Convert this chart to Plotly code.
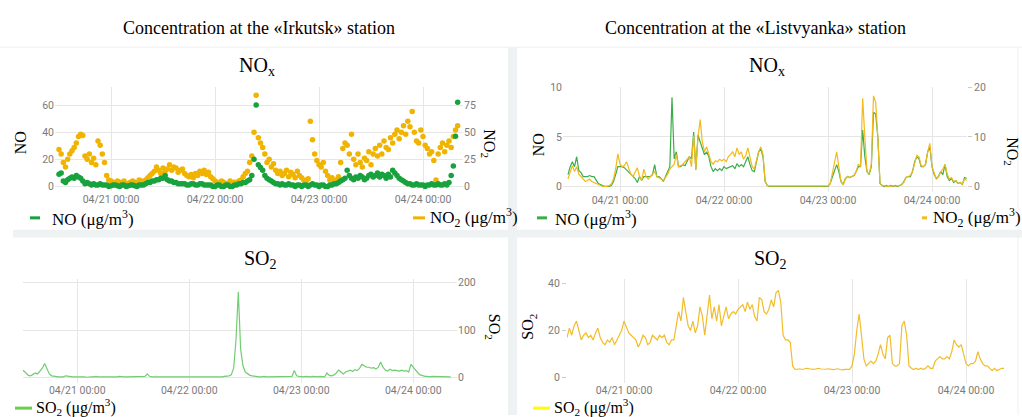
import pandas as pd
import plotly.graph_objects as go

# ---------------- data (30-min steps starting 04/20 12:00) ----------------
START = "2021-04-20 12:00"

irk_no2 = [34,30, 22,18, 25,30, 33,36, 40,46, 48,47, 28,25, 30,22, 26,20, 42,38, 30,22, 10,6,
           5,4, 3,5, 4,3, 5,2, 3,4, 5,4, 3,6, 5,4, 6,8, 10,12, 14,18, 15,12,
           17,14, 16,20, 15,18, 17,13, 15,16, 12,10, 9,11, 8,12, 10,14, 12,15, 11,13, 9,7,
           5,4, 3,5, 4,2, 3,5, 2,4, 3,5, 6,9, 12,14, 22,28, 50,84, 45,40, 36,30,
           22,25, 18,21, 15,12, 14,10, 12,15, 9,13, 11,8, 14,10, 8,6, 5,7, 60,43, 30,24,
           20,18, 22,14, 10,6, 8,5, 6,9, 22,35, 40,38, 30,48, 25,20, 30,22, 18,26, 24,32,
           20,30, 35,28, 38,30, 42,36, 34,45, 40,48, 52,44, 50,56, 48,60, 55,69, 50,42, 40,52,
           46,38, 35,30, 32,24, 6,30, 36,40, 32,38, 42,36, 46,52, 56]

irk_no = [9,10, 4,3, 5,6, 7,6, 8,7, 6,4, 2,3, 2,1, 2,1, 1,2, 1,1, 1,0,
          0.5,1, 1,0.5, 0,1, 1,0, 0.5,1, 1,0.5, 0,1, 1,1, 2,3, 3,4, 4,5, 5,6,
          6,8, 5,4, 4,3, 3,2, 2,2, 2,1, 1,2, 2,1, 1,2, 2,1, 1,1, 1,0,
          0,1, 1,0, 0,1, 1,0, 0,1, 1,2, 2,3, 3,4, 5,8, 20,60, 16,14, 12,8,
          6,5, 4,3, 2,2, 1,2, 1,1, 2,1, 1,0, 1,1, 0,1, 1,0, 1,2, 1,1,
          0,1, 1,0, 0,1, 1,2, 2,3, 4,5, 6,12, 8,6, 5,7, 6,8, 7,5, 6,8,
          9,7, 8,10, 7,9, 8,6, 9,7, 12,10, 8,6, 5,4, 3,2, 2,1, 1,2, 1,1,
          1,0, 1,1, 2,1, 1,2, 1,1, 2,1, 3,8, 15,37, 62]

lis_no = [1.2,2.0,2.5,2.0,3.0,1.6,1.4,1.0,1.0,1.0,1.1,1.0,1.0,0.6,0.3,0.2,0.1,0.0,0.0,0.0,0.1,0.5,1.2,2.0,
          2.0,2.0,1.9,1.7,1.5,1.2,1.0,0.8,0.4,1.0,0.6,1.0,1.0,1.0,1.0,1.2,2.2,1.0,1.0,0.8,0.5,1.0,1.6,2.0,
          9.0,2.8,3.5,2.0,2.0,2.2,2.1,2.6,3.0,2.8,5.5,1.7,5.2,4.5,3.8,3.2,3.5,3.0,2.0,1.5,1.8,1.6,1.8,1.6,
          2.0,1.8,1.9,2.0,2.1,1.8,2.3,2.0,2.2,2.0,2.6,3.0,2.2,1.6,1.5,2.5,3.5,3.8,3.0,0.5,0.1,0.0,0.0,0.0,
          0,0,0,0,0,0,0,0,0,0,0,0,0,0,0,0,0,0,0,0,0,0,0,0,
          0.0,0.3,1.0,1.6,2.2,1.5,0.5,0.2,0.8,1.0,0.9,1.0,1.1,1.5,2.0,2.0,5.7,3.0,1.5,1.2,2.0,7.5,7.3,5.0,
          0.3,0.1,0.0,0.1,0.0,0.1,0.0,0.1,0.0,0.1,0.2,0.5,0.9,1.0,1.0,1.5,2.5,3.0,2.8,2.0,2.0,2.2,3.5,4.0,
          2.0,1.2,0.8,1.0,1.5,1.2,2.2,1.0,0.6,0.8,0.4,0.6,0.3,0.4,0.2,0.9,0.8]

lis_no2 = [1.5,2.8,4.2,3.0,4.0,2.5,2.0,1.5,1.0,1.2,1.5,1.0,0.8,0.5,0.3,0.1,0.0,0.0,0.0,0.2,0.5,1.5,3.5,6.6,
           4.5,4.0,4.2,5.0,3.5,2.5,2.0,3.0,3.8,2.0,1.2,3.5,2.0,1.5,2.0,2.5,3.0,2.0,1.8,1.5,1.2,1.8,2.5,3.5,
           4.0,4.5,6.5,4.0,4.2,4.5,5.0,5.5,6.0,4.0,10.3,3.5,10.0,13.5,9.0,7.0,8.0,6.5,5.0,4.5,5.2,5.0,5.5,5.2,
           5.5,5.0,6.0,6.5,7.0,6.0,7.8,6.5,7.0,5.5,6.2,7.8,5.5,4.0,3.5,5.5,7.0,8.0,6.5,1.0,0.2,0.1,0.1,0.1,
           0.1,0.1,0.1,0.1,0.1,0.1,0.1,0.1,0.1,0.1,0.1,0.1,0.1,0.1,0.1,0.1,0.1,0.1,0.1,0.1,0.1,0.1,0.1,0.1,
           0.1,0.5,2.5,5.0,7.0,4.0,1.0,0.3,1.5,2.0,1.8,2.0,2.2,3.0,4.5,4.0,17.8,10.0,3.0,2.5,4.5,18.3,17.0,10.0,
           0.6,0.2,0.1,0.1,0.0,0.1,0.1,0.0,0.1,0.2,0.4,0.8,1.8,2.0,2.2,3.0,5.0,6.3,6.0,4.2,4.0,4.5,7.0,8.7,
           4.0,2.5,1.5,2.0,3.0,3.5,4.5,2.5,1.5,1.8,1.0,1.2,0.6,0.8,0.5,1.5,1.2]

irk_so2 = [10,15,10,5,4,8,10,8,14,20,30,18,8,4,3,2,2,2,2,4,3,2,2,2,
           2,3,2,2,1,2,2,2,3,2,2,2,2,2,1,2,2,2,3,2,2,2,2,2,
           2,2,2,2,2,3,8,3,2,2,2,2,2,2,2,2,1,2,2,2,2,2,2,2,
           2,2,2,2,2,2,2,2,2,2,2,2,2,2,2,3,3,4,6,20,78,180,60,25,
           12,8,5,4,3,3,2,2,3,2,2,3,2,2,2,3,2,2,2,2,3,15,4,3,
           2,2,3,2,2,3,2,2,3,2,2,10,5,4,6,10,16,12,8,12,14,16,13,17,
           15,20,28,24,22,22,20,21,18,22,33,22,16,14,18,15,16,15,14,16,14,15,12,28,
           22,14,10,6,4,3,3,2,3,3,2,3,3,2,3,3,2]

lis_so2 = [17,21,18,22,24,20,16,18,19,17,18,16,19,21,17,15,14,16,15,17,14,16,18,20,
           24,21,19,18,17,16,13,15,18,17,14,15,18,17,16,18,17,18,15,14,16,16,22,28,
           24,34,28,22,20,24,19,22,30,26,18,26,35,25,30,24,31,22,26,30,25,27,28,27,
           29,30,31,28,32,29,31,26,24,34,33,28,27,29,33,30,36,37,32,18,16,16,15,5,
           3.5,3.6,3.8,3.5,3.7,4,3.8,3.6,3.5,3.8,4,3.7,3.5,3.6,3.8,3.5,3.4,3.6,3.8,3.5,3.3,3.5,3.6,3.5,
           5,10,20,27,18,8,5,6,7,6,7,10,14,10,8,17,18,6,5,5,6,22,24,18,
           5,4,3.5,4,3.5,4,3.5,4,5,4,4,7,8,9,8,8,9,8,11,16,14,13,14,10,
           6,5,6,6,7,11,8,6,5,5,4,3,4,3,3.5,4,4]

main_titles = ["Concentration at the «Irkutsk» station", "Concentration at the «Listvyanka» station"]

# ---------------- helpers ----------------
W, H = 1022, 417
def px(x): return x / W
def py(y): return 1 - y / H
def times(n): return pd.date_range(START, periods=n, freq="30min")
REF = pd.Timestamp("2021-04-21 00:00")
def xr(left, right, ref_px, ppd):
    return [(REF + pd.Timedelta(days=(left - ref_px) / ppd)).isoformat(),
            (REF + pd.Timedelta(days=(right - ref_px) / ppd)).isoformat()]
def yr(v_per_px, zero_px, top_px, bot_px):
    return [-(bot_px - zero_px) * v_per_px, (zero_px - top_px) * v_per_px]

C_IRK_NO = "#17a23e"
C_IRK_NO2 = "#f0b400"
C_LIS_NO = "#3aad4a"
C_LIS_NO2 = "#f4b91a"
C_IRK_SO2 = "#72cc72"
C_LIS_SO2 = "#f2bc2a"

fig = go.Figure()
# panel 1: Irkutsk NOx (NO2 on main axis y, NO on overlaying y2 so green is on top)
fig.add_trace(go.Scatter(x=times(len(irk_no2)), y=irk_no2, mode="markers", xaxis="x", yaxis="y",
                         marker=dict(size=5.5, color=C_IRK_NO2), showlegend=False))
fig.add_trace(go.Scatter(x=times(len(irk_no)), y=irk_no, mode="markers", xaxis="x", yaxis="y2",
                         marker=dict(size=5.5, color=C_IRK_NO), showlegend=False))
# panel 2: Listvyanka NOx
fig.add_trace(go.Scatter(x=times(len(lis_no)), y=lis_no, mode="lines", xaxis="x2", yaxis="y3",
                         line=dict(color=C_LIS_NO, width=1.2), showlegend=False))
fig.add_trace(go.Scatter(x=times(len(lis_no2)), y=lis_no2, mode="lines", xaxis="x2", yaxis="y4",
                         line=dict(color=C_LIS_NO2, width=1.2), showlegend=False))
# panel 3: Irkutsk SO2
fig.add_trace(go.Scatter(x=times(len(irk_so2)), y=irk_so2, mode="lines", xaxis="x3", yaxis="y5",
                         line=dict(color=C_IRK_SO2, width=1.2), showlegend=False))
# panel 4: Listvyanka SO2
fig.add_trace(go.Scatter(x=times(len(lis_so2)), y=lis_so2, mode="lines", xaxis="x4", yaxis="y6",
                         line=dict(color=C_LIS_SO2, width=1.2), showlegend=False))

TICKF = dict(family="Roboto", size=10.5, color="#7a7a7a")
GRID = "#e6e6e6"
xcommon = dict(type="date", tickformat="%m/%d %H:%M", dtick=86400000, tick0=REF.isoformat(),
               showgrid=True, gridcolor=GRID, zeroline=False, showline=False, tickfont=TICKF, ticks="")
ycommon = dict(zeroline=False, showline=False, tickfont=TICKF, gridcolor=GRID)

no_scale1 = 60 / 83.0
no_scale2 = 10 / 101.0
fig.update_layout(
    width=W, height=H, margin=dict(l=0, r=0, t=0, b=0),
    paper_bgcolor="white", plot_bgcolor="rgba(0,0,0,0)", showlegend=False,
    xaxis=dict(xcommon, domain=[px(55), px(463)], range=xr(55, 463, 111, 104), anchor="y"),
    yaxis=dict(ycommon, domain=[py(189), py(83)], side="right", anchor="x",
               range=[v * 1.25 for v in yr(no_scale1, 184, 83, 189)], dtick=25, showgrid=False),
    yaxis2=dict(ycommon, overlaying="y", side="left", anchor="x",
                range=yr(no_scale1, 184, 83, 189), dtick=20, showgrid=True),
    xaxis2=dict(xcommon, domain=[px(563), px(967)], range=xr(563, 967, 620, 104), anchor="y3"),
    yaxis3=dict(ycommon, domain=[py(190), py(83)], side="left", anchor="x2",
                range=yr(no_scale2, 184, 83, 190), dtick=5, showgrid=True),
    yaxis4=dict(ycommon, overlaying="y3", side="right", anchor="x2",
                range=[v * 2 for v in yr(no_scale2, 184, 83, 190)], dtick=10, showgrid=False,
                ticks="outside", ticklen=4, tickcolor="#cccccc"),
    xaxis3=dict(xcommon, domain=[px(23), px(457)], range=xr(23, 457, 77.3, 112), anchor="y5"),
    yaxis5=dict(ycommon, domain=[py(384), py(278)], side="right", anchor="x3",
                range=yr(200 / 97.3, 379, 278, 384), dtick=100, showgrid=True),
    xaxis4=dict(xcommon, domain=[px(567), px(1008)], range=xr(567, 1008, 624, 114), anchor="y6"),
    yaxis6=dict(ycommon, domain=[py(384), py(278)], side="left", anchor="x4",
                range=yr(40 / 96.3, 379, 278, 384), dtick=20, showgrid=False,
                ticks="outside", ticklen=4, tickcolor="#cccccc"),
)

# separators (dashboard background)
SEP = "#eef2f3"
shapes = [
    dict(type="line", xref="paper", yref="paper", x0=0, x1=1, y0=py(42), y1=py(42),
         line=dict(color="#f0f0f0", width=1), layer="below"),
    dict(type="rect", xref="paper", yref="paper", x0=px(13), x1=1, y0=py(236), y1=py(228),
         fillcolor=SEP, line=dict(width=0), layer="below"),
    dict(type="rect", xref="paper", yref="paper", x0=px(508), x1=px(517), y0=0, y1=py(42),
         fillcolor=SEP, line=dict(width=0), layer="below"),
    dict(type="line", xref="paper", yref="paper", x0=px(1018), x1=px(1018), y0=0, y1=py(42),
         line=dict(color="#eef0f0", width=1), layer="below"),
]
# legend swatches
def swatch(x0, x1, y, color, w=3):
    return dict(type="line", xref="paper", yref="paper", x0=px(x0), x1=px(x1), y0=py(y), y1=py(y),
                line=dict(color=color, width=w))
shapes += [swatch(30, 40, 216, C_IRK_NO), swatch(413, 425, 216, C_IRK_NO2),
           swatch(537, 547, 216, C_LIS_NO), swatch(922, 927, 216, C_LIS_NO2),
           swatch(15, 32, 410, "#6ad04a"), swatch(533, 550, 410, "#ffff00")]
fig.update_layout(shapes=shapes)

SERIF = "Liberation Serif"
def ann(text, x, y, size, xanchor="center", angle=0):
    return dict(text=text, x=px(x), y=py(y), xref="paper", yref="paper", showarrow=False,
                xanchor=xanchor, yanchor="middle", textangle=angle,
                font=dict(family=SERIF, size=size, color="black"))
UNIT = " (μg/m<sup>3</sup>)"
anns = [
    ann(main_titles[0], 259, 22, 18), ann(main_titles[1], 755, 22, 18),
    ann("NO<sub>x</sub>", 257, 62, 20), ann("NO<sub>x</sub>", 767, 62, 20),
    ann("SO<sub>2</sub>", 260, 258, 20), ann("SO<sub>2</sub>", 770, 258, 20),
    ann("NO", 20, 140, 16, angle=-90), ann("NO<sub>2</sub>", 489, 140, 16, angle=90),
    ann("NO", 538, 142, 16, angle=-90), ann("NO<sub>2</sub>", 1012, 148, 16, angle=90),
    ann("SO<sub>2</sub>", 493, 327, 16, angle=90), ann("SO<sub>2</sub>", 529, 327, 16, angle=-90),
    ann("NO" + UNIT, 50, 216, 17, xanchor="left"),
    ann("NO<sub>2</sub>" + UNIT, 428, 216, 17, xanchor="left"),
    ann("NO" + UNIT, 553, 216, 17, xanchor="left"),
    ann("NO<sub>2</sub>" + UNIT, 931, 216, 17, xanchor="left"),
    ann("SO<sub>2</sub>" + UNIT, 34, 408.5, 16, xanchor="left"),
    ann("SO<sub>2</sub>" + UNIT, 552, 408.5, 16, xanchor="left"),
]
fig.update_layout(annotations=anns)

fig.write_html("out.html")
